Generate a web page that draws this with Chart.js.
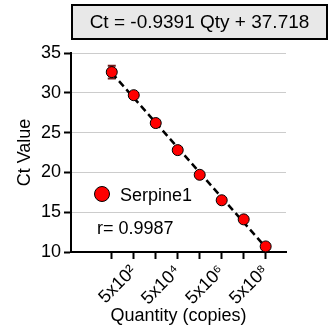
<!DOCTYPE html>
<html>
<head>
<meta charset="utf-8">
<script src="https://cdn.jsdelivr.net/npm/chart.js@4/dist/chart.umd.min.js"></script>
<style>
  html, body { margin: 0; padding: 0; background: #fff; }
  #wrap { width: 333px; height: 331px; }
</style>
</head>
<body>
<div id="wrap"><canvas id="myChart" width="333" height="331"></canvas></div>
<script>
var quantities = [5e1, 5e2, 5e3, 5e4, 5e5, 5e6, 5e7, 5e8];
var ctValues = [32.6, 29.7, 26.2, 22.8, 19.7, 16.5, 14.1, 10.7];
var ctErrors = [0.8, 0.3, 0.2, 0.2, 0.2, 0.2, 0.2, 0.2];
var tickLabels = ['', '5x10²', '', '5x10⁴', '', '5x10⁶', '', '5x10⁸'];
var fitQty = [5e1, 5e8];
var fitCt = [32.5, 10.6];
var equation = 'Ct = -0.9391 Qty + 37.718';
var seriesName = 'Serpine1';
var rText = 'r= 0.9987';

var FONT = 'Liberation Sans, Arial, Helvetica, sans-serif';

// error bars, drawn under the markers
var errorBars = {
  id: 'errorBars',
  beforeDatasetsDraw: function (chart) {
    var ctx = chart.ctx;
    var xs = chart.scales.x, ys = chart.scales.y;
    ctx.save();
    ctx.strokeStyle = '#6b1d1d';
    ctx.lineWidth = 2;
    for (var i = 0; i < quantities.length; i++) {
      var x = xs.getPixelForValue(quantities[i]);
      var y1 = ys.getPixelForValue(ctValues[i] - ctErrors[i]);
      var y2 = ys.getPixelForValue(ctValues[i] + ctErrors[i]);
      ctx.beginPath();
      ctx.moveTo(x, y1); ctx.lineTo(x, y2);
      ctx.moveTo(x - 4, y1); ctx.lineTo(x + 4, y1);
      ctx.moveTo(x - 4, y2); ctx.lineTo(x + 4, y2);
      ctx.stroke();
    }
    ctx.restore();
  }
};

// equation box, legend and r value
var annotations = {
  id: 'annotations',
  afterDraw: function (chart) {
    var ctx = chart.ctx;
    var area = chart.chartArea;
    ctx.save();
    ctx.fillStyle = '#e8e8e8';
    ctx.strokeStyle = '#000';
    ctx.lineWidth = 2;
    ctx.fillRect(72, 5, 255, 34);
    ctx.strokeRect(72, 5, 255, 34);
    ctx.fillStyle = '#000';
    ctx.font = '19px ' + FONT;
    ctx.textAlign = 'center';
    ctx.textBaseline = 'middle';
    ctx.fillText(equation, 199.5, 23);

    ctx.beginPath();
    ctx.arc(area.left + 31, 194, 7.5, 0, Math.PI * 2);
    ctx.fillStyle = '#ff0000';
    ctx.fill();
    ctx.lineWidth = 1;
    ctx.strokeStyle = '#000';
    ctx.stroke();

    ctx.fillStyle = '#000';
    ctx.font = '18px ' + FONT;
    ctx.textAlign = 'left';
    ctx.textBaseline = 'alphabetic';
    ctx.fillText(seriesName, area.left + 49, 201);
    ctx.fillText(rText, area.left + 26, 234);
    ctx.restore();
  }
};

var ctx = document.getElementById('myChart').getContext('2d');

var chartData = {
  type: 'scatter',
  data: {
    datasets: [
      {
        label: seriesName,
        data: quantities.map(function (q, i) { return { x: q, y: ctValues[i] }; }),
        backgroundColor: '#ff0000',
        borderColor: '#000',
        borderWidth: 1,
        pointRadius: 5.5,
        order: 0
      },
      {
        label: 'fit',
        type: 'line',
        data: fitQty.map(function (q, i) { return { x: q, y: fitCt[i] }; }),
        borderColor: '#000',
        borderWidth: 2.5,
        borderDash: [7, 4],
        pointRadius: 0,
        fill: false,
        order: 1
      }
    ]
  },
  options: {
    responsive: false,
    animation: false,
    layout: { padding: { left: 0, right: 47, top: 53, bottom: 0 } },
    plugins: {
      legend: { display: false },
      tooltip: { enabled: false },
      title: { display: false }
    },
    scales: {
      x: {
        type: 'logarithmic',
        min: 0.7,
        max: 4.2e9,
        afterBuildTicks: function (scale) {
          scale.ticks = quantities.map(function (q) { return { value: q }; });
        },
        afterFit: function (scale) { scale.height = 79; },
        border: { color: '#000', width: 2 },
        grid: { drawOnChartArea: false, tickColor: '#000', tickLength: 7, tickWidth: 2 },
        ticks: {
          autoSkip: false,
          minRotation: 45,
          maxRotation: 45,
          padding: 2,
          color: '#000',
          font: { family: FONT, size: 18 },
          callback: function (value, index) { return tickLabels[index]; }
        },
        title: {
          display: true,
          text: 'Quantity (copies)',
          color: '#000',
          font: { family: FONT, size: 18 },
          padding: { top: 0, bottom: 4 }
        }
      },
      y: {
        min: 10,
        max: 35,
        afterFit: function (scale) { scale.width = 71; },
        border: { color: '#000', width: 2 },
        grid: {
          color: '#cccccc',
          borderDash: [8, 6],
          lineWidth: 1,
          tickColor: '#000',
          tickLength: 7,
          tickWidth: 2,
          tickBorderDash: []
        },
        ticks: {
          stepSize: 5,
          padding: 3,
          color: '#000',
          font: { family: FONT, size: 18 }
        },
        title: {
          display: true,
          text: 'Ct Value',
          color: '#000',
          font: { family: FONT, size: 18 },
          padding: { top: 14, bottom: 0 }
        }
      }
    }
  },
  plugins: [errorBars, annotations]
};

var myChart = new Chart(ctx, chartData);
</script>
</body>
</html>
